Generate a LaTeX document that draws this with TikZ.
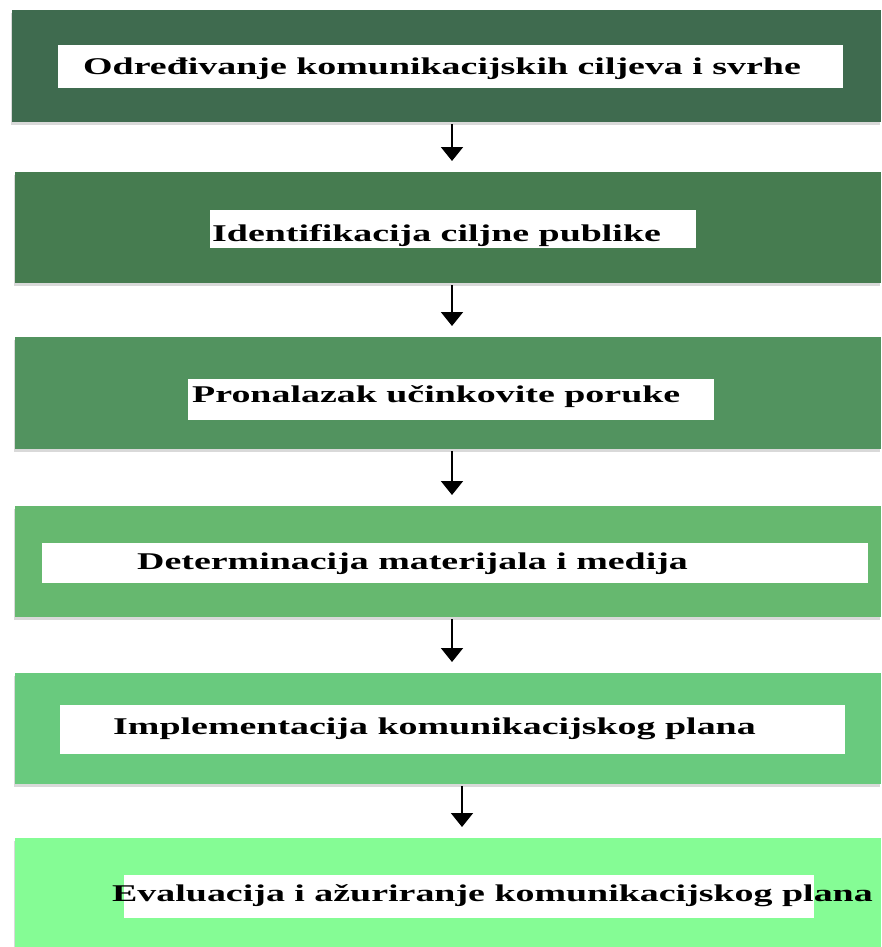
\documentclass[tikz,border=0pt]{standalone}
\usepackage{fontspec}
\newfontfamily\stepfont[FakeStretch=1.58]{Liberation Serif}
\usetikzlibrary{arrows.meta,shadows}
\definecolor{stepone}{HTML}{3F6B4F}
\definecolor{steptwo}{HTML}{467C50}
\definecolor{stepthree}{HTML}{52935F}
\definecolor{stepfour}{HTML}{66B86F}
\definecolor{stepfive}{HTML}{69CA7E}
\definecolor{stepsix}{HTML}{85FC95}
\begin{document}
\begin{tikzpicture}[x=1pt,y=-1pt,
    stepbox/.style={anchor=north west, minimum width=866pt, minimum height=#1, inner sep=0pt,
        drop shadow={opacity=0.3, shadow xshift=-1pt, shadow yshift=-3pt}},
    labelbox/.style={fill=white, anchor=north west, inner sep=0pt},
    steptext/.style={anchor=base west, inner sep=0pt, font=\stepfont\fontsize{24}{28}\selectfont\bfseries},
    flow/.style={-{Triangle[width=22pt,length=14pt]}, line width=2pt, shorten <=2pt, shorten >=11pt}]
    \useasboundingbox (0,0) rectangle (881,947);
    % steps
    \node[stepbox=112pt, fill=stepone, minimum width=869pt] (b1) at (12,10) {};
    \node[stepbox=111pt, fill=steptwo] (b2) at (15,172) {};
    \node[stepbox=112pt, fill=stepthree] (b3) at (15,337) {};
    \node[stepbox=111pt, fill=stepfour] (b4) at (15,506) {};
    \node[stepbox=111pt, fill=stepfive] (b5) at (15,673) {};
    \node[stepbox=109pt, fill=stepsix] (b6) at (15,838) {};
    % white labels
    \node[labelbox, minimum width=785pt, minimum height=43pt] (w1) at (58,45) {};
    \node[labelbox, minimum width=486pt, minimum height=38pt] (w2) at (210,210) {};
    \node[labelbox, minimum width=526pt, minimum height=41pt] (w3) at (188,379) {};
    \node[labelbox, minimum width=826pt, minimum height=40pt] (w4) at (42,543) {};
    \node[labelbox, minimum width=785pt, minimum height=49pt] (w5) at (60,705) {};
    \node[labelbox, minimum width=690pt, minimum height=43pt] (w6) at (124,875) {};
    \node[steptext] (t1) at (83,75) {Određivanje komunikacijskih ciljeva i svrhe};
    \node[steptext] (t2) at (212,241) {Identifikacija ciljne publike};
    \node[steptext] (t3) at (192,402) {Pronalazak učinkovite poruke};
    \node[steptext] (t4) at (137,569) {Determinacija materijala i medija};
    \node[steptext] (t5) at (113,734) {Implementacija komunikacijskog plana};
    \node[steptext] (t6) at (112,901) {Evaluacija i ažuriranje komunikacijskog plana};
    % arrows
    \draw[flow] (b1.south -| 452,0) -- (b2.north -| 452,0);
    \draw[flow] (b2.south -| 452,0) -- (b3.north -| 452,0);
    \draw[flow] (b3.south -| 452,0) -- (b4.north -| 452,0);
    \draw[flow] (b4.south -| 452,0) -- (b5.north -| 452,0);
    \draw[flow] (b5.south -| 462,0) -- (b6.north -| 462,0);
\end{tikzpicture}
\end{document}
